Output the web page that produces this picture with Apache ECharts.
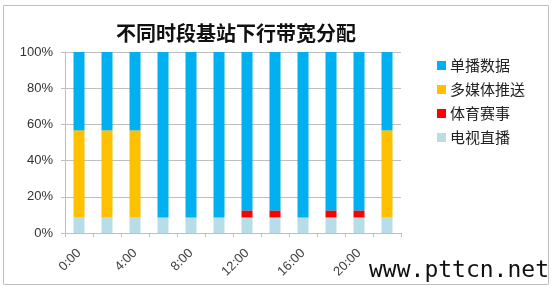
<!DOCTYPE html>
<html>
<head>
<meta charset="utf-8">
<script src="https://cdn.jsdelivr.net/npm/echarts@6/dist/echarts.min.js"></script>
<style>
html,body{margin:0;padding:0;background:#fff;}
#c{width:554px;height:289px;}
</style>
</head>
<body>
<div id="c"></div>
<script>
var categories = ['0:00','2:00','4:00','6:00','8:00','10:00','12:00','14:00','16:00','18:00','20:00','22:00'];
var tvLive    = [8.6, 8.6, 8.6, 8.6, 8.6, 8.6, 8.6, 8.6, 8.6, 8.6, 8.6, 8.6];
var sports    = [0, 0, 0, 0, 0, 0, 3.9, 3.9, 0, 3.9, 3.9, 0];
var multimedia= [48.1, 48.1, 48.1, 0, 0, 0, 0, 0, 0, 0, 0, 48.1];
var unicast   = [43.3, 43.3, 43.3, 91.4, 91.4, 91.4, 87.5, 87.5, 91.4, 87.5, 87.5, 43.3];
var yTicks = [0, 20, 40, 60, 80, 100];
var titleText = '不同时段基站下行带宽分配';
var watermark = 'www.pttcn.net';

var chart = echarts.init(document.getElementById('c'), null, {renderer:'canvas'});
var cjk = '"Noto Sans CJK SC", sans-serif';
var latin = '"Liberation Sans", Arial, sans-serif';
var gridColor = '#bfbfbf';
var barW = 11;
function bar(name, data, color){
  return {name:name, type:'bar', stack:'all', data:data, barWidth:barW,
    itemStyle:{color:color}, emphasis:{disabled:true}};
}
chart.setOption({
  animation:false,
  backgroundColor:'#fff',
  title:{text:titleText, left:231, top:18, textAlign:'center',
    textStyle:{fontFamily:cjk, fontSize:20, fontWeight:'bold', color:'#111'}},
  legend:{
    orient:'vertical', left:432, top:53, itemWidth:9, itemHeight:9, itemGap:9,
    icon:'rect', textStyle:{fontFamily:cjk, fontSize:15, color:'#222', padding:[0,0,0,-1]},
    data:['单播数据','多媒体推送','体育赛事','电视直播']
  },
  grid:{left:65, right:153, top:52, bottom:56, containLabel:false},
  xAxis:{
    type:'category', data:categories, boundaryGap:true,
    axisLine:{lineStyle:{color:gridColor, width:1}},
    axisTick:{show:true, interval:0, length:4, lineStyle:{color:gridColor}},
    axisLabel:{interval:1, rotate:45, margin:18, fontFamily:latin, fontSize:13, color:'#404040'}
  },
  yAxis:{
    type:'value', min:yTicks[0], max:yTicks[yTicks.length-1], interval:20,
    axisLine:{show:true, lineStyle:{color:gridColor}},
    axisTick:{show:true, length:4, lineStyle:{color:gridColor}},
    splitLine:{show:true, lineStyle:{color:gridColor}},
    axisLabel:{margin:12, fontFamily:latin, fontSize:13, color:'#333', formatter:'{value}%'}
  },
  series:[
    bar('电视直播', tvLive, '#B7DEE8'),
    bar('体育赛事', sports, '#FF0000'),
    bar('多媒体推送', multimedia, '#FFC000'),
    bar('单播数据', unicast, '#00B0F0')
  ],
  graphic:[
    {type:'rect', z:-1, shape:{x:3.5, y:5.5, width:545, height:279},
      style:{fill:null, stroke:'#bfbfbf', lineWidth:1}},
    {type:'text', z:10, x:369, y:271,
      style:{text:watermark, fontFamily:'"DejaVu Sans Mono", "Liberation Mono", monospace',
        fontSize:23, fill:'#111', textVerticalAlign:'middle'}}
  ]
});
</script>
</body>
</html>
